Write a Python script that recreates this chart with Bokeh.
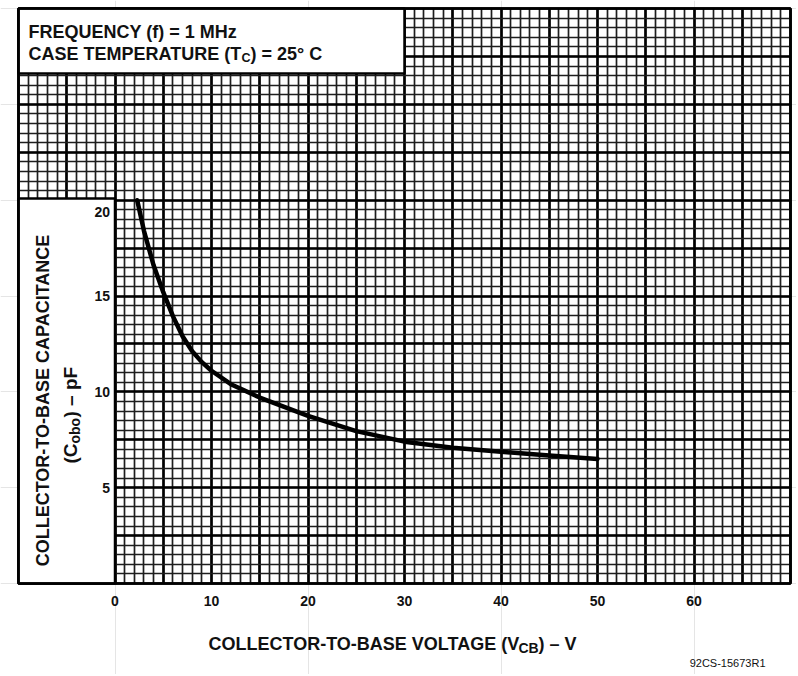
import math
from bokeh.plotting import figure
from bokeh.models import (Range1d, SingleIntervalTicker, Grid,
                          BoxAnnotation, Label, ColumnDataSource)
from bokeh.embed import file_html
from bokeh.resources import INLINE

# ---- data ----
voltage_v = [2.3, 3, 4, 5, 6, 7, 8, 9, 10, 12, 15, 20, 25, 30, 35, 40, 45, 50]
capacitance_pf = [20.0, 18.4, 16.6, 15.2, 13.95, 12.9, 12.12, 11.55, 11.1,
                  10.4, 9.7, 8.75, 7.95, 7.4, 7.08, 6.87, 6.68, 6.5]
x_ticks = [0, 10, 20, 30, 40, 50, 60]
y_ticks = [5, 10, 15, 20]

# ---- layout (graph paper spans -10..70 V and 0..30 pF) ----
W, H = 796, 674
X0, X1 = -10, 70
Y0, Y1 = 0, 30
PAPER_LEFT, PAPER_RIGHT = 18, 790    # pixel edges of the graph paper
PAPER_TOP, PAPER_BOTTOM = 8, 583
PXV = (PAPER_RIGHT - PAPER_LEFT) / (X1 - X0)
PYC = (PAPER_BOTTOM - PAPER_TOP) / (Y1 - Y0)
FONT = "Liberation Sans"
INK = "#111111"


def xd(px):
    return X0 + (px - PAPER_LEFT) / PXV


def yd(py):
    return Y1 - (py - PAPER_TOP) / PYC


p = figure(width=W, height=H, output_backend="svg", toolbar_location=None,
           x_range=Range1d(xd(0), xd(W)), y_range=Range1d(yd(H), yd(0)),
           x_axis_location=None, y_axis_location=None,
           min_border=0, min_border_left=0, min_border_right=0,
           min_border_top=0, min_border_bottom=0)
p.background_fill_color = "white"
p.border_fill_color = "white"
p.outline_line_color = None

# graph-paper grid (5 V / 2.5 pF heavy lines, 1 V / 0.5 pF light lines)
xgrid = Grid(dimension=0, bounds=(X0, X1),
             ticker=SingleIntervalTicker(interval=5, num_minor_ticks=5))
ygrid = Grid(dimension=1, bounds=(Y0, Y1),
             ticker=SingleIntervalTicker(interval=2.5, num_minor_ticks=5))
has_cross = "cross_bounds" in Grid.properties()
if has_cross:
    xgrid.cross_bounds = (Y0, Y1)
    ygrid.cross_bounds = (X0, X1)
for g in (xgrid, ygrid):
    g.grid_line_color = "black"
    g.grid_line_width = 2.6
    g.grid_line_alpha = 1.0
    g.minor_grid_line_color = "#1e1e1e"
    g.minor_grid_line_width = 1.7
    g.minor_grid_line_alpha = 1.0
    p.add_layout(g)

# curve
src = ColumnDataSource(dict(v=voltage_v, c=capacitance_pf))
p.line("v", "c", source=src, line_color="black", line_width=4.5,
       line_join="round", line_cap="round")

# white margins outside the graph paper (only needed without cross_bounds)
if not has_cross:
    FAR_L, FAR_R = xd(-200), xd(W + 200)
    FAR_B, FAR_T = yd(H + 200), yd(-200)
    for kw in (dict(left=FAR_L, right=X0, bottom=FAR_B, top=FAR_T),
               dict(left=X1, right=FAR_R, bottom=FAR_B, top=FAR_T),
               dict(left=FAR_L, right=FAR_R, bottom=FAR_B, top=Y0),
               dict(left=FAR_L, right=FAR_R, bottom=Y1, top=FAR_T)):
        p.add_layout(BoxAnnotation(fill_color="white", fill_alpha=1.0,
                                   line_alpha=0, **kw))

# white boxes on the paper
p.add_layout(BoxAnnotation(left=X0, right=0, bottom=Y0, top=yd(198),
                           fill_color="white", fill_alpha=1.0,
                           line_color="black", line_width=2.5, line_alpha=1.0))
p.add_layout(BoxAnnotation(left=X0, right=30, bottom=yd(73), top=Y1,
                           fill_color="white", fill_alpha=1.0,
                           line_color="black", line_width=2.5, line_alpha=1.0))
# paper border
p.add_layout(BoxAnnotation(left=X0, right=X1, bottom=Y0, top=Y1,
                           fill_alpha=0.0, line_color="black",
                           line_width=2.6, line_alpha=1.0))


def lab(text, x, y, size, align="left", baseline="alphabetic", angle=0.0,
        style="bold", x_offset=0):
    p.add_layout(Label(x=x, y=y, text=text, text_font=FONT,
                       text_font_size=f"{size}px", text_font_style=style,
                       text_color=INK, text_align=align, x_offset=x_offset,
                       text_baseline=baseline, angle=angle))


# tick labels
for v in x_ticks:
    lab(str(v), v, yd(600), 14, align="center", baseline="middle")
for v in y_ticks:
    yy = v - 12 / PYC if v == max(y_ticks) else v
    lab(str(v), 0, yy, 14, align="right", baseline="middle", x_offset=-5)

# top-left conditions box
lab("FREQUENCY (f) = 1 MHz", xd(28), yd(31), 18)
lab("CASE TEMPERATURE (T", xd(28), yd(53), 18)
lab("C", xd(241), yd(57), 12.5)
lab(") = 25\u00b0 C", xd(250), yd(53), 18)

# y title (vertical)
lab("COLLECTOR-TO-BASE CAPACITANCE", xd(42), yd(400), 18, align="center",
    baseline="middle", angle=math.pi / 2)
lab("(C", xd(70), yd(463), 19, baseline="middle", angle=math.pi / 2)
lab("obo", xd(74), yd(443), 14, baseline="middle", angle=math.pi / 2)
lab(") \u2013 pF", xd(70), yd(417), 19, baseline="middle", angle=math.pi / 2)

# x title
lab("COLLECTOR-TO-BASE VOLTAGE (V", xd(208), yd(643), 18)
lab("CB", xd(518), yd(647), 14)
lab(") \u2013 V", xd(538), yd(643), 18)

# figure code
lab("92CS-15673R1", xd(765), yd(662), 11, align="right", style="normal")

open("out.html", "w").write(file_html(p, INLINE))
